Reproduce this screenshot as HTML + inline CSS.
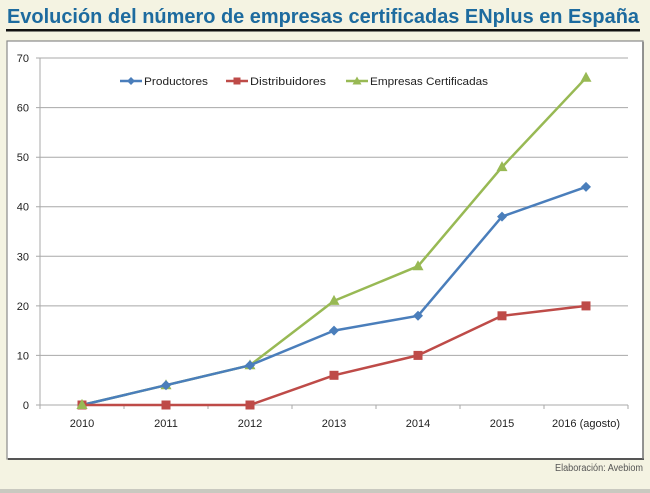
<!DOCTYPE html>
<html><head><meta charset="utf-8"><style>
html,body{margin:0;padding:0;}
body{width:650px;height:493px;background:#f4f3e2;overflow:hidden;position:relative;font-family:"Liberation Sans",sans-serif;}
svg{position:absolute;left:0;top:0;}
</style></head><body>
<svg width="650" height="493" viewBox="0 0 650 493" xmlns="http://www.w3.org/2000/svg">
<rect x="0" y="0" width="650" height="493" fill="#f4f3e2"/>
<rect x="0" y="489" width="650" height="4" fill="#c9c9c0"/>
<text x="7" y="23" font-family="Liberation Sans, sans-serif" font-weight="bold" font-size="20" fill="#1d6b9f" textLength="632" lengthAdjust="spacingAndGlyphs">Evolución del número de empresas certificadas ENplus en España</text>
<rect x="6" y="29" width="634" height="2.5" fill="#111"/>
<!-- chart box -->
<rect x="7" y="41" width="636" height="418" fill="#ffffff" stroke="#8a8a8a" stroke-width="1.2"/>
<line x1="8" y1="459" x2="644" y2="459" stroke="#555" stroke-width="2"/>
<line x1="643" y1="42" x2="643" y2="459" stroke="#777" stroke-width="1.5"/>
<!-- gridlines -->
<g stroke="#a8a8a8" stroke-width="1">
<line x1="36" y1="58" x2="628" y2="58"/>
<line x1="36" y1="107.6" x2="628" y2="107.6"/>
<line x1="36" y1="157.2" x2="628" y2="157.2"/>
<line x1="36" y1="206.7" x2="628" y2="206.7"/>
<line x1="36" y1="256.3" x2="628" y2="256.3"/>
<line x1="36" y1="305.9" x2="628" y2="305.9"/>
<line x1="36" y1="355.4" x2="628" y2="355.4"/>
<line x1="36" y1="405" x2="628" y2="405"/>
<line x1="40" y1="58" x2="40" y2="405"/>
<line x1="40" y1="405" x2="40" y2="409"/>
<line x1="124" y1="405" x2="124" y2="409"/>
<line x1="208" y1="405" x2="208" y2="409"/>
<line x1="292" y1="405" x2="292" y2="409"/>
<line x1="376" y1="405" x2="376" y2="409"/>
<line x1="460" y1="405" x2="460" y2="409"/>
<line x1="544" y1="405" x2="544" y2="409"/>
<line x1="628" y1="405" x2="628" y2="409"/>
</g>
<!-- y labels -->
<g font-family="Liberation Sans, sans-serif" font-size="11" fill="#222" text-anchor="end">
<text x="29" y="62">70</text>
<text x="29" y="111.6">60</text>
<text x="29" y="161.2">50</text>
<text x="29" y="210.7">40</text>
<text x="29" y="260.3">30</text>
<text x="29" y="309.9">20</text>
<text x="29" y="359.4">10</text>
<text x="29" y="409">0</text>
</g>
<!-- x labels -->
<g font-family="Liberation Sans, sans-serif" font-size="11" fill="#222" text-anchor="middle">
<text x="82" y="427">2010</text>
<text x="166" y="427">2011</text>
<text x="250" y="427">2012</text>
<text x="334" y="427">2013</text>
<text x="418" y="427">2014</text>
<text x="502" y="427">2015</text>
<text x="586" y="427" textLength="68" lengthAdjust="spacingAndGlyphs">2016 (agosto)</text>
</g>
<!-- series: Empresas (green) -->
<polyline fill="none" stroke="#98b954" stroke-width="2.5" stroke-linejoin="round" points="82,405 166,385.2 250,365.3 334,300.9 418,266.2 502,167.1 586,77.8"/>
<g fill="#98b954">
<polygon points="82,399 87.5,409 76.5,409"/>
<polygon points="166,379.2 171.5,389.2 160.5,389.2"/>
<polygon points="250,359.3 255.5,369.3 244.5,369.3"/>
<polygon points="334,294.9 339.5,304.9 328.5,304.9"/>
<polygon points="418,260.2 423.5,270.2 412.5,270.2"/>
<polygon points="502,161.1 507.5,171.1 496.5,171.1"/>
<polygon points="586,71.8 591.5,81.8 580.5,81.8"/>
</g>
<!-- Productores (blue) -->
<polyline fill="none" stroke="#4a7ebb" stroke-width="2.5" stroke-linejoin="round" points="82,405 166,385.2 250,365.3 334,330.6 418,315.8 502,216.6 586,186.9"/>
<g fill="#4a7ebb">
<polygon points="166,380.2 171,385.2 166,390.2 161,385.2"/>
<polygon points="250,360.3 255,365.3 250,370.3 245,365.3"/>
<polygon points="334,325.6 339,330.6 334,335.6 329,330.6"/>
<polygon points="418,310.8 423,315.8 418,320.8 413,315.8"/>
<polygon points="502,211.6 507,216.6 502,221.6 497,216.6"/>
<polygon points="586,181.9 591,186.9 586,191.9 581,186.9"/>
</g>
<!-- Distribuidores (red) -->
<polyline fill="none" stroke="#be4b48" stroke-width="2.5" stroke-linejoin="round" points="82,405 166,405 250,405 334,375.3 418,355.4 502,315.8 586,305.9"/>
<g fill="#be4b48">
<rect x="77.5" y="400.5" width="9" height="9"/>
<rect x="161.5" y="400.5" width="9" height="9"/>
<rect x="245.5" y="400.5" width="9" height="9"/>
<rect x="329.5" y="370.8" width="9" height="9"/>
<rect x="413.5" y="350.9" width="9" height="9"/>
<rect x="497.5" y="311.3" width="9" height="9"/>
<rect x="581.5" y="301.4" width="9" height="9"/>
</g>
<!-- green marker over 2010 -->
<polygon points="82,399 87.5,409 76.5,409" fill="#98b954"/>
<!-- legend -->
<g font-family="Liberation Sans, sans-serif" font-size="11" fill="#222">
<line x1="120" y1="81" x2="142" y2="81" stroke="#4a7ebb" stroke-width="2.5"/>
<polygon points="131,77 135,81 131,85 127,81" fill="#4a7ebb"/>
<text x="144" y="85" textLength="64" lengthAdjust="spacingAndGlyphs">Productores</text>
<line x1="226" y1="81" x2="248" y2="81" stroke="#be4b48" stroke-width="2.5"/>
<rect x="233.5" y="77.5" width="7" height="7" fill="#be4b48"/>
<text x="250" y="85" textLength="76" lengthAdjust="spacingAndGlyphs">Distribuidores</text>
<line x1="346" y1="81" x2="368" y2="81" stroke="#98b954" stroke-width="2.5"/>
<polygon points="357,76.5 361.5,84.5 352.5,84.5" fill="#98b954"/>
<text x="370" y="85" textLength="118" lengthAdjust="spacingAndGlyphs">Empresas Certificadas</text>
</g>
<!-- footer -->
<text x="643" y="471" text-anchor="end" font-family="Liberation Sans, sans-serif" font-size="10" fill="#555" textLength="88" lengthAdjust="spacingAndGlyphs">Elaboración: Avebiom</text>
</svg>
</body></html>
